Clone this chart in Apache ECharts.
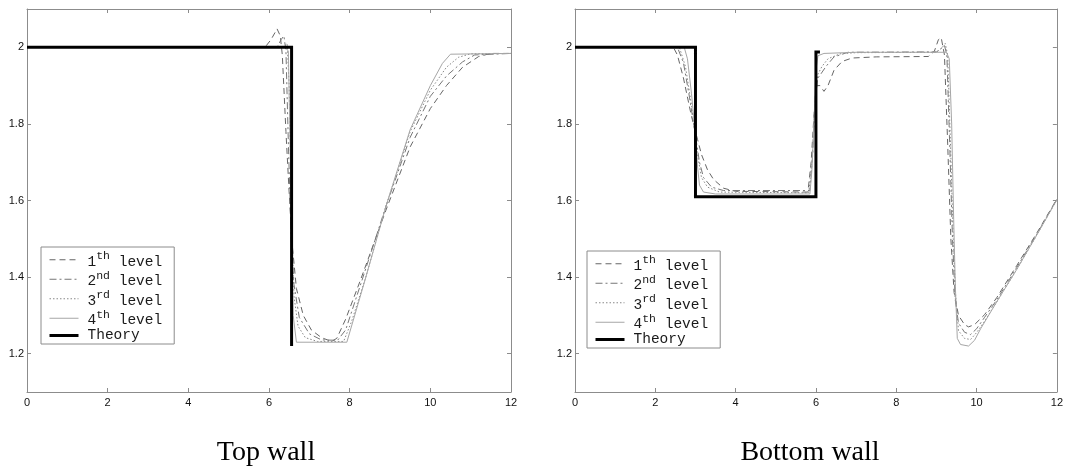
<!DOCTYPE html>
<html>
<head>
<meta charset="utf-8">
<script src="https://cdn.jsdelivr.net/npm/echarts@6/dist/echarts.min.js"></script>
<style>
  html, body { margin: 0; padding: 0; background: #fff; }
  #chart { width: 1066px; height: 468px; }
</style>
</head>
<body>
<div id="chart"></div>
<script>
// ---- data: wall profiles at four refinement levels plus the theoretical solution ----
const xTickValues = [0, 2, 4, 6, 8, 10, 12];
const yTickValues = [1.2, 1.4, 1.6, 1.8, 2];
const seriesNames = ['1th level', '2nd level', '3rd level', '4th level', 'Theory'];
const panelTitles = ['Top wall', 'Bottom wall'];

// Top wall
const topLevel1 = [[0,2],[5.9,2],[6.05,2.02],[6.2,2.048],[6.28,2.03],[6.33,1.98],[6.42,1.78],[6.5,1.62],[6.58,1.48],[6.68,1.37],[6.85,1.3],[7.05,1.262],[7.3,1.242],[7.55,1.232],[7.68,1.24],[7.9,1.29],[8.26,1.39],[8.9,1.575],[9.5,1.74],[10,1.84],[10.4,1.9],[10.8,1.948],[11.2,1.976],[11.5,1.984],[12,1.984]];
const topLevel2 = [[0,2],[6.2,2],[6.3,2.02],[6.37,2.03],[6.42,1.99],[6.48,1.75],[6.55,1.5],[6.62,1.38],[6.75,1.295],[7,1.252],[7.3,1.236],[7.7,1.235],[7.9,1.262],[8.3,1.39],[8.9,1.585],[9.5,1.765],[10,1.872],[10.4,1.925],[10.8,1.962],[11.1,1.98],[12,1.984]];
const topLevel3 = [[0,2],[6.35,2],[6.45,2.01],[6.5,1.9],[6.56,1.55],[6.62,1.35],[6.72,1.272],[6.9,1.242],[7.2,1.232],[7.85,1.232],[8.05,1.285],[8.4,1.4],[8.9,1.585],[9.5,1.78],[10,1.888],[10.4,1.948],[10.7,1.974],[11,1.983],[12,1.984]];
const topLevel4 = [[0,2],[6.4,2],[6.48,1.99],[6.55,1.6],[6.6,1.3],[6.68,1.23],[7.93,1.23],[8.38,1.392],[8.9,1.585],[9.5,1.785],[10,1.9],[10.3,1.958],[10.5,1.982],[12,1.984]];
const topTheory = [[0,2],[6.56,2],[6.56,1.22]];

// Bottom wall
const bottomLevel1 = [[0,2],[2.45,2],[2.55,1.98],[2.7,1.92],[2.9,1.82],[3.05,1.76],[3.15,1.72],[3.3,1.68],[3.45,1.655],[3.7,1.632],[4,1.624],[5.8,1.622],[5.88,1.7],[5.95,1.82],[6.02,1.9],[6.1,1.9],[6.2,1.885],[6.3,1.9],[6.45,1.94],[6.65,1.963],[6.9,1.972],[7.5,1.975],[8.8,1.976],[8.95,1.99],[9.05,2.02],[9.12,2.025],[9.2,1.98],[9.28,1.75],[9.36,1.5],[9.44,1.36],[9.55,1.3],[9.7,1.276],[9.8,1.27],[9.95,1.276],[10.2,1.302],[10.5,1.346],[11,1.43],[11.5,1.515],[12,1.604]];
const bottomLevel2 = [[0,2],[2.55,2],[2.7,1.96],[2.85,1.87],[3,1.77],[3.1,1.7],[3.2,1.66],[3.4,1.635],[3.7,1.626],[5.85,1.626],[5.92,1.72],[5.98,1.87],[6.05,1.92],[6.12,1.93],[6.25,1.95],[6.45,1.975],[6.8,1.987],[9,1.988],[9.1,1.995],[9.2,2.005],[9.26,1.98],[9.33,1.75],[9.4,1.5],[9.47,1.34],[9.55,1.28],[9.7,1.256],[9.85,1.25],[10,1.265],[10.2,1.295],[10.5,1.34],[11,1.425],[11.5,1.512],[12,1.603]];
const bottomLevel3 = [[0,2],[2.6,2],[2.75,1.95],[2.9,1.85],[3.05,1.72],[3.15,1.66],[3.3,1.635],[3.6,1.622],[5.82,1.62],[5.9,1.7],[5.97,1.85],[6.05,1.93],[6.15,1.95],[6.3,1.97],[6.6,1.983],[7,1.986],[9,1.987],[9.15,2],[9.22,2.01],[9.28,1.98],[9.35,1.75],[9.42,1.5],[9.48,1.35],[9.55,1.26],[9.7,1.24],[9.85,1.237],[10,1.255],[10.2,1.285],[10.5,1.335],[11,1.42],[11.5,1.51],[12,1.602]];
const bottomLevel4 = [[0,2],[2.72,2],[2.8,1.97],[2.9,1.88],[3,1.77],[3.05,1.69],[3.1,1.64],[3.2,1.622],[3.5,1.617],[5.85,1.617],[5.9,1.68],[5.95,1.8],[6,1.94],[6.05,1.978],[6.2,1.984],[7,1.987],[9.25,1.987],[9.32,1.97],[9.38,1.8],[9.43,1.55],[9.47,1.38],[9.52,1.24],[9.6,1.224],[9.8,1.22],[9.95,1.235],[10.1,1.265],[10.5,1.335],[11,1.42],[11.5,1.51],[12,1.602]];
const bottomTheory = [[0,2],[3,2],[3,1.61],[6,1.61],[6,1.988],[6.1,1.988]];

// ---- styling ----
const axisGrey = '#8c8c8c';
const labelFont = 'Liberation Sans';
const monoFont = 'Liberation Mono';

const lineStyles = [
  { color: '#666666', width: 1, type: [6, 4] },
  { color: '#777777', width: 1, type: [7, 3, 2, 3] },
  { color: '#888888', width: 1, type: [1.5, 2] },
  { color: '#a6a6a6', width: 1, type: 'solid' },
  { color: '#000000', width: 3, type: 'solid', join: 'miter', cap: 'butt' }
];

const grids = [
  { left: 27, top: 9, width: 484, height: 383 },
  { left: 575, top: 9, width: 483, height: 383 }
];

function xAxesFor(gridIndex) {
  const common = {
    type: 'value', gridIndex, min: 0, max: 12, interval: 2,
    axisLine: { onZero: false, lineStyle: { color: axisGrey, width: 1 } },
    axisTick: { inside: true, length: 4, lineStyle: { color: axisGrey } },
    splitLine: { show: false }
  };
  return [
    Object.assign({}, common, {
      position: 'bottom',
      axisLabel: { margin: 5, color: '#111', fontFamily: labelFont, fontSize: 11 }
    }),
    Object.assign({}, common, { position: 'top', axisLabel: { show: false } })
  ];
}

function yAxesFor(gridIndex) {
  const common = {
    type: 'value', gridIndex, min: 1.1, max: 2.1,
    axisLine: { onZero: false, lineStyle: { color: axisGrey, width: 1 } },
    axisTick: { inside: true, length: 4, customValues: yTickValues, lineStyle: { color: axisGrey } },
    splitLine: { show: false }
  };
  return [
    Object.assign({}, common, {
      position: 'left',
      axisLabel: {
        margin: 3, color: '#111', fontFamily: labelFont, fontSize: 11,
        customValues: yTickValues,
        formatter: v => String(+(+v).toFixed(1))
      }
    }),
    Object.assign({}, common, { position: 'right', axisLabel: { show: false } })
  ];
}

function makeSeries(datasets, axisIndex) {
  return datasets.map((data, i) => ({
    name: seriesNames[i],
    type: 'line',
    xAxisIndex: axisIndex,
    yAxisIndex: axisIndex,
    data: data,
    symbol: 'none',
    showSymbol: false,
    smooth: false,
    animation: false,
    itemStyle: { color: lineStyles[i].color },
    lineStyle: lineStyles[i],
    z: i === 4 ? 5 : 2
  }));
}

// legend labels: ordinal suffix raised as a superscript
function legendLabel(name) {
  const m = name.match(/^(\d)(\w\w) (level)$/);
  if (m) return '{f|' + m[1] + '}{s|' + m[2] + '}{n| ' + m[3] + '}';
  return '{t|' + name + '}';
}

const legendRich = {
  f: { fontFamily: monoFont, fontSize: 14.5, color: '#1a1a1a', padding: [0, 0, 0, 4], verticalAlign: 'bottom' },
  n: { fontFamily: monoFont, fontSize: 14.5, color: '#1a1a1a', verticalAlign: 'bottom' },
  s: { fontFamily: monoFont, fontSize: 11.5, color: '#1a1a1a', padding: [0, 0, 7.5, 0] },
  t: { fontFamily: monoFont, fontSize: 14.5, color: '#1a1a1a', padding: [0, 0, 0, 4] }
};

function makeLegend(left, top) {
  return {
    left, top,
    orient: 'vertical',
    itemWidth: 29,
    itemHeight: 12,
    itemGap: 0,
    padding: [3, 12, 1, 7],
    borderColor: '#8c8c8c',
    borderWidth: 1,
    borderRadius: 0,
    backgroundColor: '#ffffff',
    selectedMode: false,
    data: seriesNames.map((name, i) => ({
      name,
      itemStyle: { color: 'rgba(0,0,0,0)', borderWidth: 0, opacity: 0 },
      lineStyle: { width: lineStyles[i].width, type: lineStyles[i].type, color: lineStyles[i].color, opacity: 1 }
    })),
    formatter: legendLabel,
    textStyle: { rich: legendRich }
  };
}

const chart = echarts.init(document.getElementById('chart'), null, { renderer: 'canvas' });

chart.setOption({
  animation: false,
  backgroundColor: '#ffffff',
  grid: grids,
  xAxis: xAxesFor(0).concat(xAxesFor(1)),
  yAxis: yAxesFor(0).concat(yAxesFor(1)),
  legend: [makeLegend(41, 247), makeLegend(587, 251)],
  series: makeSeries([topLevel1, topLevel2, topLevel3, topLevel4, topTheory], 0)
    .concat(makeSeries([bottomLevel1, bottomLevel2, bottomLevel3, bottomLevel4, bottomTheory], 2)),
  graphic: [
    { type: 'text', x: 266, y: 453, style: { text: panelTitles[0], font: '28px "Liberation Serif"', fill: '#000', align: 'center', verticalAlign: 'middle' } },
    { type: 'text', x: 810, y: 453, style: { text: panelTitles[1], font: '28px "Liberation Serif"', fill: '#000', align: 'center', verticalAlign: 'middle' } }
  ]
});
</script>
</body>
</html>
